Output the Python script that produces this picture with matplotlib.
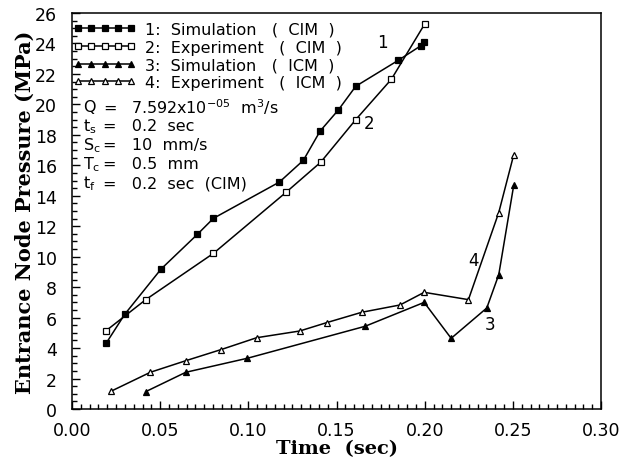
import matplotlib
matplotlib.use('Agg')
import matplotlib.pyplot as plt
from matplotlib.ticker import MultipleLocator

plt.rcParams['font.family'] = 'DejaVu Sans'
plt.rcParams['mathtext.default'] = 'regular'

# 1: simulation, CIM
t_sim_cim = [0.0193, 0.0299, 0.0505, 0.0711, 0.0802, 0.1176, 0.1312, 0.1407, 0.1510, 0.1609, 0.1851, 0.1978, 0.1997]
p_sim_cim = [4.31, 6.22, 9.19, 11.47, 12.52, 14.90, 16.33, 18.25, 19.63, 21.19, 22.90, 23.85, 24.08]
# 2: experiment, CIM
t_exp_cim = [0.0193, 0.0418, 0.0802, 0.1214, 0.1410, 0.1609, 0.1811, 0.2000]
p_exp_cim = [5.14, 7.18, 10.22, 14.23, 16.20, 19.00, 21.65, 25.28]
# 3: simulation, ICM
t_sim_icm = [0.0418, 0.0645, 0.0994, 0.1662, 0.1997, 0.2150, 0.2352, 0.2420, 0.2505]
p_sim_icm = [1.14, 2.41, 3.33, 5.43, 7.00, 4.64, 6.63, 8.82, 14.70]
# 4: experiment, ICM
t_exp_icm = [0.0220, 0.0444, 0.0645, 0.0845, 0.1047, 0.1291, 0.1444, 0.1643, 0.1860, 0.1997, 0.2248, 0.2420, 0.2505]
p_exp_icm = [1.16, 2.41, 3.17, 3.90, 4.68, 5.12, 5.67, 6.35, 6.83, 7.66, 7.18, 12.90, 16.70]

legend_labels = ['1:  Simulation   (  CIM  )', '2:  Experiment   (  CIM  )',
                 '3:  Simulation   (  ICM  )', '4:  Experiment   (  ICM  )']

fig = plt.figure(figsize=(6.32, 4.64), dpi=100)
ax = fig.add_axes([0.114, 0.1164, 0.837, 0.8534])

common = dict(color='k', linewidth=1.1, markersize=5, markeredgewidth=0.9)
ax.plot(t_sim_cim, p_sim_cim, marker='s', markerfacecolor='k', label=legend_labels[0], **common)
ax.plot(t_exp_cim, p_exp_cim, marker='s', markerfacecolor='white', label=legend_labels[1], **common)
ax.plot(t_sim_icm, p_sim_icm, marker='^', markerfacecolor='k', label=legend_labels[2], **common)
ax.plot(t_exp_icm, p_exp_icm, marker='^', markerfacecolor='white', label=legend_labels[3], **common)

# curve numbers
ax.text(0.176, 24.1, '1', fontsize=12, ha='center', va='center')
ax.text(0.1686, 18.8, '2', fontsize=12, ha='center', va='center')
ax.text(0.237, 5.6, '3', fontsize=12, ha='center', va='center')
ax.text(0.2277, 9.8, '4', fontsize=12, ha='center', va='center')

leg = ax.legend(loc='upper left', bbox_to_anchor=(-0.014, 1.0), numpoints=5,
                handlelength=3.9, handletextpad=0.55,
                frameon=False, fontsize=11.5, labelspacing=0.17,
                borderaxespad=0.1, borderpad=0.45)

params = [('Q', r'=   7.592x10$^{-05}$  m$^3$/s'),
          ('t$_s$', '=   0.2  sec'),
          ('S$_c$', '=   10  mm/s'),
          ('T$_c$', '=   0.5  mm'),
          ('t$_f$', '=   0.2  sec  (CIM)')]
for i, (name, val) in enumerate(params):
    y = 0.765 - i * 0.0485
    ax.text(0.02, y, name, transform=ax.transAxes, fontsize=11.5, va='center')
    ax.text(0.058, y, val, transform=ax.transAxes, fontsize=11.5, va='center')

ax.set_xlim(0, 0.30)
ax.set_ylim(0, 26)
ax.xaxis.set_major_locator(MultipleLocator(0.05))
ax.xaxis.set_minor_locator(MultipleLocator(0.005))
ax.yaxis.set_major_locator(MultipleLocator(2))
ax.yaxis.set_minor_locator(MultipleLocator(0.5))
ax.xaxis.set_major_formatter(plt.FormatStrFormatter('%.2f'))
ax.tick_params(which='both', direction='in', top=False, right=False, labelsize=12.5, width=1)
ax.tick_params(which='major', length=6)
ax.tick_params(which='minor', length=3.5)
ax.tick_params(axis='x', which='major', pad=9)
ax.tick_params(axis='y', which='major', pad=11)

ax.set_xlabel('Time  (sec)', family='DejaVu Serif', fontweight='bold', fontsize=14, labelpad=0)
ax.set_ylabel('Entrance Node Pressure (MPa)', family='DejaVu Serif', fontweight='bold', fontsize=15, labelpad=0)

for s in ax.spines.values():
    s.set_linewidth(1.1)

fig.savefig('out.png', dpi=100)
